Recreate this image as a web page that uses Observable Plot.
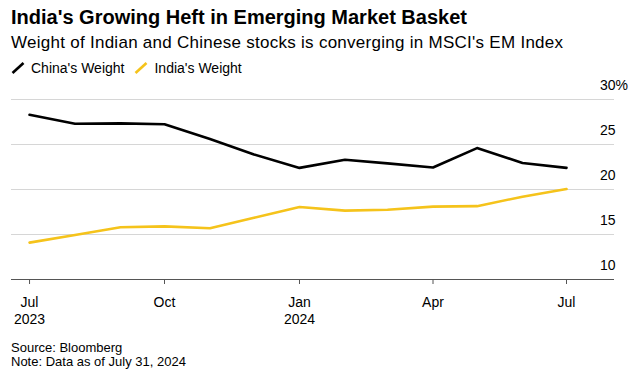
<!DOCTYPE html>
<html>
<head>
<meta charset="utf-8">
<script src="https://cdn.jsdelivr.net/npm/d3@7"></script>
<script src="https://cdn.jsdelivr.net/npm/@observablehq/plot@0.6"></script>
<style>
  html, body { margin: 0; padding: 0; background: #fff; }
  body { width: 644px; height: 385px; position: relative; overflow: hidden;
         font-family: "Liberation Sans", Arial, Helvetica, sans-serif; color: #000; }
  .abs { position: absolute; white-space: nowrap; }
  #title { left: 11px; top: 6.5px; font-size: 20px; line-height: 20px; font-weight: bold; }
  #subtitle { left: 11px; top: 34px; font-size: 17px; line-height: 17px; letter-spacing: 0.27px; }
  #legend { left: 11px; top: 61px; font-size: 14px; line-height: 14px; display: flex; align-items: center; }
  #legend .item { display: flex; align-items: center; margin-right: 10px; }
  #legend svg { margin-right: 6px; }
  #chart { left: 0; top: 70px; }
  #caption { left: 11px; top: 340.5px; font-size: 13px; line-height: 14px; }
</style>
</head>
<body>
<div id="chart" class="abs"></div>
<div id="title" class="abs"></div>
<div id="subtitle" class="abs"></div>
<div id="legend" class="abs"></div>
<div id="caption" class="abs"></div>
<script>
// ---- data ----
const months = ["2023-07-01","2023-08-01","2023-09-01","2023-10-01","2023-11-01","2023-12-01",
                "2024-01-01","2024-02-01","2024-03-01","2024-04-01","2024-05-01","2024-06-01","2024-07-01"];
const chinaWeight = [28.3, 27.3, 27.35, 27.25, 25.6, 23.9, 22.4, 23.3, 22.9, 22.45, 24.6, 22.95, 22.4];
const indiaWeight = [14.1, 14.95, 15.8, 15.9, 15.7, 16.85, 18.05, 17.65, 17.75, 18.1, 18.15, 19.2, 20.05];
const seriesNames = ["China's Weight", "India's Weight"];
const seriesColors = ["#000000", "#f5c31b"];
const yTicks = [10, 15, 20, 25, 30];
const yUnit = "%";
const xTickDates = ["2023-07-01","2023-10-01","2024-01-01","2024-04-01","2024-07-01"];
const xTickLabels = ["Jul\n2023","Oct","Jan\n2024","Apr","Jul"];
const titleText = "India's Growing Heft in Emerging Market Basket";
const subtitleText = "Weight of Indian and Chinese stocks is converging in MSCI's EM Index";
const captionLines = ["Source: Bloomberg", "Note: Data as of July 31, 2024"];

// ---- build ----
const parse = s => new Date(s + "T00:00:00Z");
const rows = [];
months.forEach((m, i) => {
  rows.push({date: parse(m), value: chinaWeight[i], series: seriesNames[0]});
  rows.push({date: parse(m), value: indiaWeight[i], series: seriesNames[1]});
});
const tickDates = xTickDates.map(parse);
const tickLabelMap = new Map(tickDates.map((d, i) => [+d, xTickLabels[i]]));

document.getElementById("title").textContent = titleText;
document.getElementById("subtitle").textContent = subtitleText;
document.getElementById("caption").innerHTML = captionLines.map(l => `<div>${l}</div>`).join("");

const legend = document.getElementById("legend");
seriesNames.forEach((name, i) => {
  const item = document.createElement("div");
  item.className = "item";
  item.innerHTML = `<svg width="14" height="12"><line x1="1.5" y1="11" x2="12.5" y2="1" stroke="${seriesColors[i]}" stroke-width="2.6"/></svg><span>${name}</span>`;
  legend.appendChild(item);
});

const chart = Plot.plot({
  width: 644,
  height: 260,
  marginLeft: 11,
  marginRight: 30,
  marginTop: 29,
  marginBottom: 51,
  style: {fontFamily: '"Liberation Sans", Arial, sans-serif', fontSize: "14px", color: "#000", background: "none"},
  x: {type: "utc", domain: [new Date(Date.UTC(2023,5,18,17)), new Date(Date.UTC(2024,7,2,17))]},
  y: {domain: [10, 30], axis: null},
  color: {domain: seriesNames, range: seriesColors},
  marks: [
    Plot.ruleY(yTicks.filter(d => d !== yTicks[0]), {stroke: "#d6d6d6", strokeWidth: 1}),
    Plot.ruleY([yTicks[0]], {stroke: "#555", strokeWidth: 1}),
    Plot.axisX({ticks: tickDates, tickSize: 5, tickPadding: 11, stroke: "#555",
      tickFormat: d => tickLabelMap.get(+d), fontSize: 14, lineHeight: 1.2, lineAnchor: "top", label: null}),
    Plot.text(yTicks, {y: d => d, text: d => String(d), frameAnchor: "right", textAnchor: "end",
      dx: 1, dy: -13.5, fontSize: 14, fill: "#000"}),
    Plot.text([yTicks[yTicks.length - 1]], {y: d => d, text: () => yUnit, frameAnchor: "right", textAnchor: "start",
      dx: 1, dy: -13.5, fontSize: 14, fill: "#000"}),
    Plot.line(rows, {x: "date", y: "value", z: "series", stroke: "series", strokeWidth: 2.6, strokeLinejoin: "round"})
  ]
});
document.getElementById("chart").appendChild(chart);
</script>
</body>
</html>
